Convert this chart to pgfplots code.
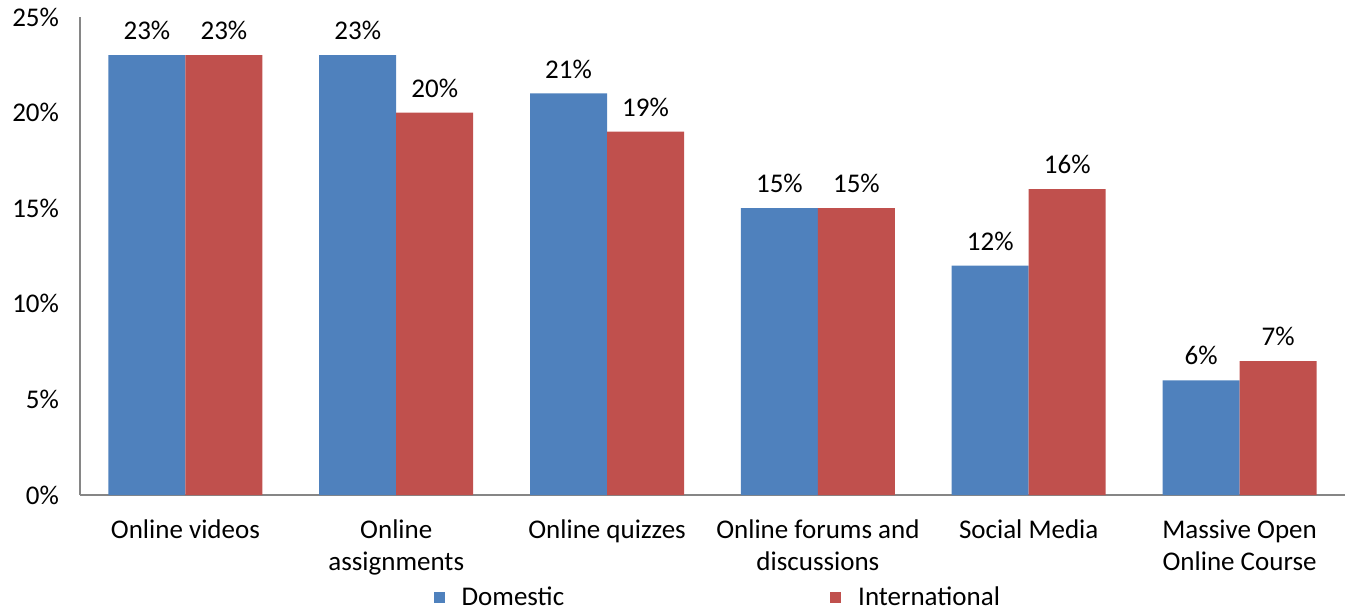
\documentclass[border=0pt]{standalone}
\usepackage{fontspec}
\setmainfont{Carlito}
\usepackage{pgfplots}
\pgfplotsset{compat=1.18}

\definecolor{domblue}{HTML}{4F81BD}
\definecolor{intred}{HTML}{C0504D}
\definecolor{axisgray}{HTML}{868686}

\begin{document}
\begin{tikzpicture}
\useasboundingbox (-40pt,-58pt) rectangle (632.5pt,247.5pt);
\begin{axis}[
    at={(0,0)}, anchor=south west,
    scale only axis,
    width=632.5pt, height=239pt,
    ybar=0pt, bar width=38.5pt,
    xmin=-0.5, xmax=5.5,
    ymin=0, ymax=25,
    ytick={0,5,10,15,20,25},
    xtick=data,
    xticklabels={Online videos, Online\\assignments, Online quizzes,
                 Online forums and\\discussions, Social Media,
                 Massive Open\\Online Course},
    axis lines*=left,
    axis line style={axisgray, line width=1pt},
    major tick length=0pt,
    font=\fontsize{13.5}{16}\selectfont,
    xticklabel style={align=center, font=\fontsize{13.5}{16}\selectfont, yshift=-9pt},
    yticklabel style={xshift=-7pt},
    yticklabel={\pgfmathprintnumber{\tick}\%},
    /pgf/number format/assume math mode=true,
    nodes near coords={\pgfmathprintnumber{\pgfplotspointmeta}\%},
    every node near coord/.append style={font=\fontsize{13.5}{16}\selectfont, yshift=4pt},
    legend columns=2,
    legend style={draw=none, at={(0.505,-0.215)}, anchor=center,
        font=\fontsize{13.5}{16}\selectfont,
        /tikz/every even column/.append style={column sep=131pt}},
    legend image code/.code={\fill[#1, draw=none] (0pt,-2.75pt) rectangle (5.5pt,2.75pt);
                             \path[draw=none, fill=none] (0pt,-2.75pt) rectangle (12pt,2.75pt);},
    clip=false,
]
\addplot[fill=domblue, draw=none] coordinates {(0,23) (1,23) (2,21) (3,15) (4,12) (5,6)};
\addplot[fill=intred, draw=none] coordinates {(0,23) (1,20) (2,19) (3,15) (4,16) (5,7)};
\legend{Domestic, International}
\end{axis}
\end{tikzpicture}
\end{document}
